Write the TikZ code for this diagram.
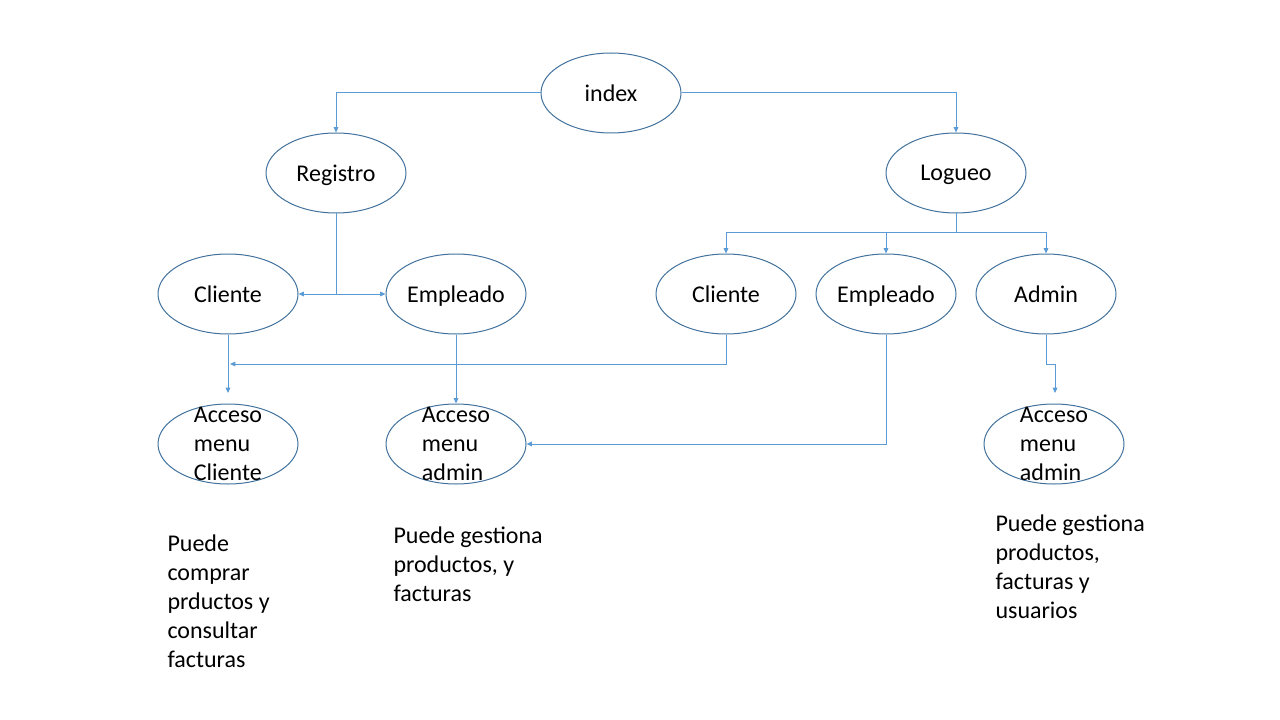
\documentclass[tikz,border=0pt]{standalone}
\usepackage{fontspec}
\setmainfont{Carlito}
\usetikzlibrary{shapes.geometric,arrows.meta}
\definecolor{borde}{HTML}{41719C}
\definecolor{linea}{HTML}{5B9BD5}

\begin{document}
\begin{tikzpicture}[x=0.75pt, y=-0.75pt, line width=0.75pt,
  font=\fontsize{18}{21.75}\selectfont,
  estado/.style={draw=borde, ellipse, minimum width=105pt, minimum height=60pt, inner sep=0pt, text depth=0pt},
  flecha/.style={draw=linea, -{Triangle[length=4pt,width=3.5pt]}},
  tramo/.style={draw=linea},
  nota/.style={anchor=north west, align=left, inner sep=0pt}]

\useasboundingbox (0,0) rectangle (1280,720);

\node [estado] (index) at (611,93) {index};
\node [estado] (registro) at (336,173) {Registro};
\node [estado] (logueo) at (956,173) {Logueo};

\node [estado] (cliente1) at (228,294) {Cliente};
\node [estado] (empleado1) at (456,294) {Empleado};
\node [estado] (cliente2) at (726,294) {Cliente};
\node [estado] (empleado2) at (886,294) {Empleado};
\node [estado] (admin) at (1046,294) {Admin};

\node [estado, label={[align=left]center:Acceso\\menu\\Cliente}] (acceso1) at (228,444) {};
\node [estado, label={[align=left]center:Acceso\\menu\\admin}] (acceso2) at (456,444) {};
\node [estado, label={[align=left]center:Acceso\\menu\\admin}] (acceso3) at (1054,444) {};

\node [nota] (nota1) at (167,534) {Puede\\comprar\\prductos y\\consultar\\facturas};
\node [nota] (nota2) at (393,526) {Puede gestiona\\productos, y\\facturas};
\node [nota] (nota3) at (995,514) {Puede gestiona\\productos,\\facturas y\\usuarios};

\coordinate (r1) at (336,294);
\coordinate (l1) at (956,233);
\coordinate (c1) at (228,393);
\coordinate (c2) at (230,364);
\coordinate (a0) at (1046,364);
\coordinate (a1) at (1055,393);

\draw[flecha] (index.west) -| (registro.north);
\draw[flecha] (index.east) -| (logueo.north);

\draw[tramo] (registro.south) -- (r1);
\draw[flecha] (r1) -- (cliente1.east);
\draw[flecha] (r1) -- (empleado1.west);

\draw[tramo] (logueo.south) -- (l1);
\draw[flecha] (l1) -| (cliente2.north);
\draw[flecha] (l1) -| (empleado2.north);
\draw[flecha] (l1) -| (admin.north);

\draw[flecha] (cliente1.south) -- (c1);
\draw[flecha] (cliente2.south) |- (c2);
\draw[flecha] (empleado1.south) -- (acceso2.north);
\draw[flecha] (empleado2.south) |- (acceso2.east);
\draw[flecha] (admin.south) -- (a0) -| (a1);

\end{tikzpicture}
\end{document}
